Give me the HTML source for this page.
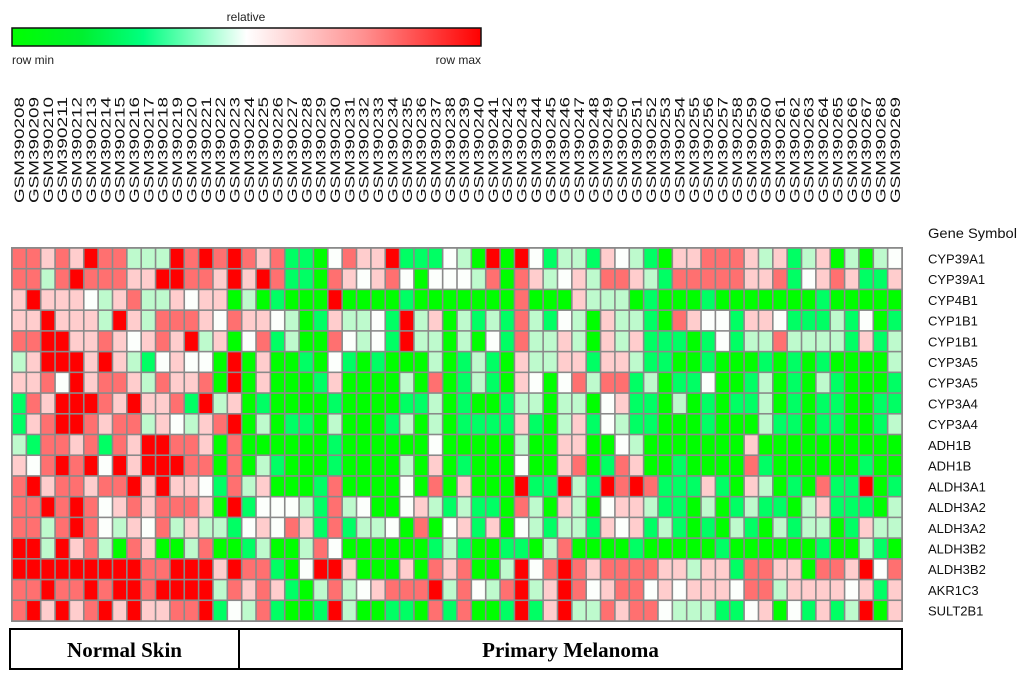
<!DOCTYPE html>
<html><head><meta charset="utf-8"><style>
html,body{margin:0;padding:0;background:#fff;}
svg{display:block;font-family:"Liberation Sans",sans-serif;}
</style></head><body>
<svg id="chart" width="1024" height="679" viewBox="0 0 1024 679">
<defs>
<linearGradient id="lg" x1="0" x2="1" y1="0" y2="0">
<stop offset="0" stop-color="#00ff00"/><stop offset="0.15" stop-color="#00f030"/><stop offset="0.28" stop-color="#00ff80"/><stop offset="0.5" stop-color="#ffffff"/><stop offset="0.75" stop-color="#ff9090"/><stop offset="1" stop-color="#ff0000"/>
</linearGradient>
</defs>
<text x="246" y="21" font-size="12" text-anchor="middle" fill="#222">relative</text>
<rect x="12" y="28" width="469" height="18" fill="url(#lg)" stroke="#111" stroke-width="1.5"/>
<text x="12" y="64" font-size="12" fill="#222">row min</text>
<text x="481" y="64" font-size="12" text-anchor="end" fill="#222">row max</text>
<text x="928" y="238" font-size="14" fill="#111" textLength="89" lengthAdjust="spacingAndGlyphs">Gene Symbol</text>
<g id="cells"></g>
<g id="collabels"></g>
<g id="rowlabels"></g>
<rect x="10" y="629" width="892" height="40" fill="none" stroke="#000" stroke-width="2"/>
<line x1="239" y1="629" x2="239" y2="669" stroke="#000" stroke-width="2"/>
<text x="124.5" y="657" font-family="'Liberation Serif',serif" font-weight="bold" font-size="21" text-anchor="middle">Normal Skin</text>
<text x="570.5" y="657" font-family="'Liberation Serif',serif" font-weight="bold" font-size="21" text-anchor="middle">Primary Melanoma</text>
</svg>
<script>
const genes = ["CYP39A1","CYP39A1","CYP4B1","CYP1B1","CYP1B1","CYP3A5","CYP3A5","CYP3A4","CYP3A4","ADH1B","ADH1B","ALDH3A1","ALDH3A2","ALDH3A2","ALDH3B2","ALDH3B2","AKR1C3","SULT2B1"];
const samples = [];
for (let i = 208; i <= 269; i++) samples.push("GSM390" + i);
// values coded 0 (row min, green) .. 6 (row max, red), 3 = middle (white)
const rowsA = [
"55454655222656565451","55256555446655464651","46444324522434402010","44644426425554354432",
"55664454345462403512","24666464213433060400","44536455425445060400","15466654644516240100",
"14566545524324560201","21554515466554050000","43565636466655050210","56455455646443152400",
"55656534545554061333","55256532435242213435","66264520540025001200","66666666655666465510",
"55655656656666254541","56464564644556132510"];
const rowsB = [
"103544611132060631221","105434530333250542342","006000010000000500042","014223162402121521320",
"005323162202031522420","103101000201210422441","014000020501210430352","001000011201001220220",
"102000120201111410241","001000000300000200440","001000020401000300450","015000030504000611621",
"215230034212110520420","415122305034140321221","253000000121001102500","366400040545002635654",
"025234555625325624653","016200110515001614622"];
const rowsC = [
"432104455542412402023","554215555544513454114","220100010000000100000","422105433144311121301",
"424111013122522221412","442110010001010100002","551201130012010210001","341102010112010110011",
"321100010002110110012","032000000040000000000","154001000051000000100","656511141042010511601",
"344211020121102411102","434121010210212201422","001000001000000100210","555544244155440554635",
"455343444355244443414","545532221134031412604"];
const values = rowsA.map((r,i)=>(r+rowsB[i].slice(0)+rowsC[i]).split("").map(Number));

const X0=12, X1=902, Y0=248, Y1=621;
const cw=(X1-X0)/samples.length, rh=(Y1-Y0)/genes.length;
function xPos(j){return X0+j*cw;}
function yPos(i){return Y0+i*rh;}
const stops=[[0,[0,255,0]],[1,[0,255,100]],[2,[190,250,205]],[3,[252,255,252]],[4,[255,205,205]],[5,[255,112,112]],[6,[255,0,0]]];
function color(v){
  v=Math.max(0,Math.min(6,v));
  let k=Math.min(5,Math.floor(v)),t=v-k;
  const a=stops[k][1],b=stops[k+1][1];
  return "rgb("+a.map((c,n)=>Math.round(c+(b[n]-c)*t)).join(",")+")";
}
const NS="http://www.w3.org/2000/svg";
const cg=document.getElementById("cells");
const bg=document.createElementNS(NS,"rect");
bg.setAttribute("x",X0-1);bg.setAttribute("y",Y0-1);bg.setAttribute("width",X1-X0+2);bg.setAttribute("height",Y1-Y0+2);bg.setAttribute("fill","#8a8a8a");


cg.appendChild(bg);
values.forEach((row,i)=>{
  row.forEach((v,j)=>{
    if(j>=samples.length) return;
    const r=document.createElementNS(NS,"rect");
    r.setAttribute("x",(xPos(j)+0.8).toFixed(2));
    r.setAttribute("y",(yPos(i)+0.8).toFixed(2));
    r.setAttribute("width",(cw-1.6).toFixed(2));
    r.setAttribute("height",(rh-1.6).toFixed(2));
    r.setAttribute("fill",color(v));
    
    
    cg.appendChild(r);
  });
});
const cl=document.getElementById("collabels");
samples.forEach((s,j)=>{
  const t=document.createElementNS(NS,"text");
  const cx=xPos(j)+cw/2+5;
  t.setAttribute("transform","translate("+cx.toFixed(2)+",203) rotate(-90)");
  t.setAttribute("font-size","14");
  t.setAttribute("textLength","106");
  t.setAttribute("lengthAdjust","spacingAndGlyphs");
  t.setAttribute("fill","#111");
  t.textContent=s;
  
  
  cl.appendChild(t);
});
const rl=document.getElementById("rowlabels");
genes.forEach((g,i)=>{
  const t=document.createElementNS(NS,"text");
  t.setAttribute("x","928");
  t.setAttribute("y",(yPos(i)+rh/2+5).toFixed(2));
  t.setAttribute("font-size","13");
  t.setAttribute("fill","#111");
  t.textContent=g;
  
  
  rl.appendChild(t);
});
</script>
</body></html>
